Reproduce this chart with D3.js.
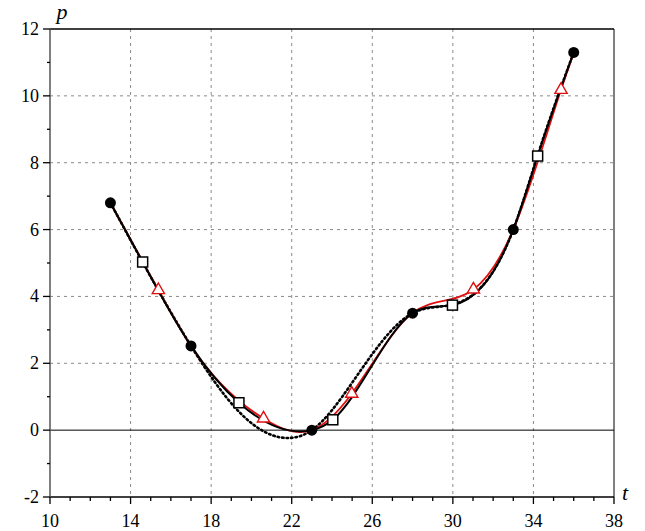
<!DOCTYPE html>
<html>
<head>
<meta charset="utf-8" />
<script src="https://cdn.jsdelivr.net/npm/d3@7"></script>
<style>
    body { margin: 0; background: #fff; }
    svg { display: block; }
</style>
</head>
<body>
<div id="chartRoot"></div>
<script>
// Data
const circleT = [13, 17, 23, 28, 33, 36];
const circleP = [6.8, 2.52, 0, 3.5, 6.0, 11.3];

const squareT = [14.6, 19.38, 24.04, 29.98, 34.21];
const squareP = [5.03, 0.82, 0.31, 3.74, 8.2];

const triT = [15.38, 20.6, 24.98, 31.02, 35.37];
const triP = [4.19, 0.35, 1.09, 4.21, 10.18];

const dotT = [13, 17, 19.4, 22, 23, 25, 28, 30, 33, 34.2, 36];
const dotP = [6.8, 2.52, 0.54, -0.23, 0, 1.42, 3.5, 3.76, 6.0, 8.2, 11.3];

const xTicks = [10, 14, 18, 22, 26, 30, 34, 38];
const yTicks = [-2, 0, 2, 4, 6, 8, 10, 12];

const FONT = "Liberation Serif";

function zip(ts, ps) { return ts.map((t, i) => ({ t: t, p: ps[i] })); }
const circles = zip(circleT, circleP);
const squares = zip(squareT, squareP);
const tris = zip(triT, triP);
const dots = zip(dotT, dotP);
const solidPts = circles.concat(squares).sort((a, b) => a.t - b.t);
const redPts = circles.concat(tris).sort((a, b) => a.t - b.t);

// natural cubic spline y(x) as a d3 curve factory (x must increase)
function curveSplineX(context) {
    let xs, ys;
    return {
        areaStart() {}, areaEnd() {},
        lineStart() { xs = []; ys = []; },
        point(px, py) { xs.push(+px); ys.push(+py); },
        lineEnd() {
            const n = xs.length;
            if (!n) return;
            context.moveTo(xs[0], ys[0]);
            if (n < 3) { if (n === 2) context.lineTo(xs[1], ys[1]); return; }
            const h = [], M = new Array(n).fill(0);
            for (let i = 0; i < n - 1; i++) h.push(xs[i + 1] - xs[i]);
            // tridiagonal system for interior second derivatives
            const a = [], b = [], c = [], r = [];
            for (let i = 1; i < n - 1; i++) {
                a.push(h[i - 1]); b.push(2 * (h[i - 1] + h[i])); c.push(h[i]);
                r.push(6 * ((ys[i + 1] - ys[i]) / h[i] - (ys[i] - ys[i - 1]) / h[i - 1]));
            }
            const m = b.length;
            for (let i = 1; i < m; i++) {
                const w = a[i] / b[i - 1];
                b[i] -= w * c[i - 1];
                r[i] -= w * r[i - 1];
            }
            const sol = new Array(m);
            sol[m - 1] = r[m - 1] / b[m - 1];
            for (let i = m - 2; i >= 0; i--) sol[i] = (r[i] - c[i] * sol[i + 1]) / b[i];
            for (let i = 0; i < m; i++) M[i + 1] = sol[i];
            for (let i = 0; i < n - 1; i++) {
                const s = (ys[i + 1] - ys[i]) / h[i];
                const d0 = s - h[i] * (2 * M[i] + M[i + 1]) / 6;
                const d1 = s + h[i] * (M[i] + 2 * M[i + 1]) / 6;
                context.bezierCurveTo(
                    xs[i] + h[i] / 3, ys[i] + d0 * h[i] / 3,
                    xs[i + 1] - h[i] / 3, ys[i + 1] - d1 * h[i] / 3,
                    xs[i + 1], ys[i + 1]);
            }
        }
    };
}

const W = 645, H = 531;
const margin = { top: 29, right: 31, bottom: 34, left: 50 };
const width = W - margin.left - margin.right;
const height = H - margin.top - margin.bottom;

const svg = d3.select("#chartRoot").append("svg")
    .attr("width", W).attr("height", H)
    .attr("font-family", FONT);
const g = svg.append("g")
    .attr("transform", `translate(${margin.left},${margin.top})`);

const x = d3.scaleLinear().domain([10, 38]).range([0, width]);
const y = d3.scaleLinear().domain([-2, 12]).range([height, 0]);

// grid
g.append("g").selectAll("line")
    .data(xTicks.filter(v => v > 10 && v < 38))
    .enter().append("line")
    .attr("x1", d => x(d)).attr("x2", d => x(d))
    .attr("y1", 0).attr("y2", height)
    .attr("stroke", "#8a8a8a").attr("stroke-width", 1)
    .attr("stroke-dasharray", "3,4");
g.append("g").selectAll("line")
    .data(yTicks.filter(v => v > 0 && v < 12))
    .enter().append("line")
    .attr("x1", 0).attr("x2", width)
    .attr("y1", d => y(d)).attr("y2", d => y(d))
    .attr("stroke", "#8a8a8a").attr("stroke-width", 1)
    .attr("stroke-dasharray", "3,4");

// zero line, top and right frame
g.append("line").attr("x1", 0).attr("x2", width)
    .attr("y1", y(0)).attr("y2", y(0))
    .attr("stroke", "#000").attr("stroke-width", 1);
g.append("line").attr("x1", 0).attr("x2", width)
    .attr("y1", y(12)).attr("y2", y(12))
    .attr("stroke", "#000").attr("stroke-width", 1.5);
g.append("line").attr("x1", width).attr("x2", width)
    .attr("y1", 0).attr("y2", height)
    .attr("stroke", "#000").attr("stroke-width", 1);

// axes
const xMinor = d3.range(10, 39, 1);
const yMinor = d3.range(-2, 13, 1);

const xAxis = g.append("g").attr("transform", `translate(0,${height})`);
xAxis.append("line").attr("x1", 0).attr("x2", width).attr("y1", 0).attr("y2", 0)
    .attr("stroke", "#000").attr("stroke-width", 1.5);
xAxis.selectAll(".tk").data(xMinor).enter().append("line")
    .attr("x1", d => x(d)).attr("x2", d => x(d))
    .attr("y1", 0).attr("y2", d => xTicks.includes(d) ? 7 : 4)
    .attr("stroke", "#000").attr("stroke-width", 1.3);
xAxis.selectAll("text").data(xTicks).enter().append("text")
    .attr("x", d => x(d)).attr("y", 30)
    .attr("text-anchor", "middle")
    .attr("font-family", FONT)
    .attr("font-size", 18)
    .text(d => d);

const yAxis = g.append("g");
yAxis.append("line").attr("x1", 0).attr("x2", 0).attr("y1", 0).attr("y2", height)
    .attr("stroke", "#555").attr("stroke-width", 1.5);
yAxis.selectAll(".tk").data(yMinor).enter().append("line")
    .attr("x1", d => yTicks.includes(d) ? -7 : -3).attr("x2", 0)
    .attr("y1", d => y(d)).attr("y2", d => y(d))
    .attr("stroke", "#000").attr("stroke-width", 1.3);
yAxis.selectAll("text").data(yTicks).enter().append("text")
    .attr("x", -11).attr("y", d => y(d) + 6)
    .attr("text-anchor", "end")
    .attr("font-family", FONT)
    .attr("font-size", 18)
    .text(d => d);

// axis names
svg.append("text").attr("x", 62).attr("y", 19)
    .attr("font-family", FONT)
    .attr("font-style", "italic").attr("font-size", 22)
    .attr("text-anchor", "middle").text("p");
svg.append("text").attr("x", 625).attr("y", 500)
    .attr("font-family", FONT)
    .attr("font-style", "italic").attr("font-size", 22)
    .attr("text-anchor", "middle").text("t");

// curves
const line = d3.line().x(d => x(d.t)).y(d => y(d.p)).curve(curveSplineX);

g.append("path").datum(dots)
    .attr("fill", "none").attr("stroke", "#000")
    .attr("stroke-width", 2.6).attr("stroke-dasharray", "1.5,3")
    .attr("stroke-linecap", "round")
    .attr("d", line);
g.append("path").datum(redPts)
    .attr("fill", "none").attr("stroke", "#e01010").attr("stroke-width", 1.8)
    .attr("d", line);
g.append("path").datum(solidPts)
    .attr("fill", "none").attr("stroke", "#000").attr("stroke-width", 2)
    .attr("d", line);

// markers
g.selectAll(".sq").data(squares).enter().append("rect")
    .attr("x", d => x(d.t) - 5).attr("y", d => y(d.p) - 5)
    .attr("width", 10).attr("height", 10)
    .attr("fill", "#fff").attr("stroke", "#000").attr("stroke-width", 1.5);

const triSym = d3.symbol().type(d3.symbolTriangle).size(65);
g.selectAll(".tri").data(tris).enter().append("path")
    .attr("transform", d => `translate(${x(d.t)},${y(d.p)})`)
    .attr("d", triSym)
    .attr("fill", "#fff").attr("stroke", "#e01010").attr("stroke-width", 1.4);

g.selectAll(".dot").data(circles).enter().append("circle")
    .attr("cx", d => x(d.t)).attr("cy", d => y(d.p))
    .attr("r", 5.5).attr("fill", "#000");
</script>
</body>
</html>
